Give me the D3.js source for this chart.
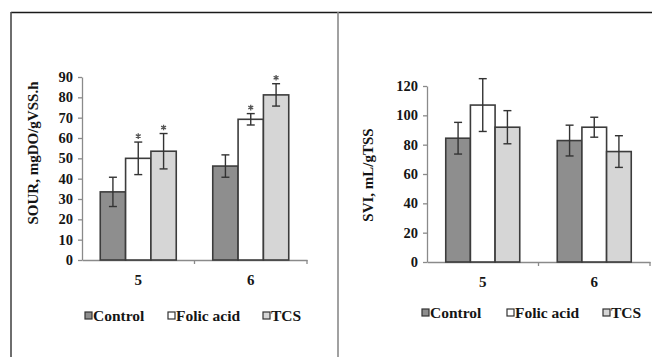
<!DOCTYPE html>
<html><head><meta charset="utf-8">
<script src="https://cdn.jsdelivr.net/npm/d3@7"></script>
<style>
html,body{margin:0;padding:0;background:#fff;}
svg{display:block;}
text{font-family:"Liberation Serif","Times New Roman",serif;font-weight:bold;}
</style></head>
<body><svg id="c" width="652" height="357"></svg>
<script>
// ---- data ----
const categories = ["5", "6"];
const seriesNames = ["Control", "Folic acid", "TCS"];
const seriesColors = ["#8e8e8e", "#ffffff", "#d6d6d6"];

const sourControl = [33.5, 46.2];
const sourFolic   = [50.0, 69.2];
const sourTCS     = [53.5, 81.2];
const sourErrControl = [7.2, 5.5];
const sourErrFolic   = [8.0, 2.8];
const sourErrTCS     = [8.7, 5.5];
const sourSigControl = [false, false];
const sourSigFolic   = [true, true];
const sourSigTCS     = [true, true];
const sourTicks = [0,10,20,30,40,50,60,70,80,90];

const sviControl = [84.4, 82.8];
const sviFolic   = [107.0, 91.9];
const sviTCS     = [91.9, 75.3];
const sviErrControl = [10.8, 10.5];
const sviErrFolic   = [18.0, 6.8];
const sviErrTCS     = [11.3, 10.8];
const sviTicks = [0,20,40,60,80,100,120];

const svg = d3.select("#c");

// frame
svg.append("line").attr("x1",11).attr("x2",652).attr("y1",12.5).attr("y2",12.5).attr("stroke","#1a1a1a").attr("stroke-width",1.6);
svg.append("line").attr("x1",11).attr("x2",11).attr("y1",12).attr("y2",357).attr("stroke","#4a4a4a").attr("stroke-width",1.6);
svg.append("line").attr("x1",338).attr("x2",338).attr("y1",12).attr("y2",357).attr("stroke","#8a8a8a").attr("stroke-width",1.6);

const star = d3.symbol().type(d3.symbolAsterisk).size(22);

function drawChart(cfg){
  const g = svg.append("g");
  const y = d3.scaleLinear().domain([0, cfg.ymax]).range([cfg.y0, cfg.yTop]);
  const x = d3.scaleBand().domain(categories).range([cfg.x0, cfg.x1]).paddingInner(0).paddingOuter(0);
  const xs = d3.scaleBand().domain(seriesNames).range([(x.bandwidth()-cfg.groupW)/2, (x.bandwidth()+cfg.groupW)/2]).padding(0);

  // y axis
  const ya = g.append("g").attr("transform",`translate(${cfg.x0},0)`)
    .call(d3.axisLeft(y).tickValues(cfg.ticks).tickSize(4).tickPadding(5).tickSizeOuter(0));
  ya.attr("font-family",null).attr("font-size",null);
  ya.selectAll("path,line").attr("stroke","#8a8a8a").attr("stroke-width",1.3);
  ya.selectAll("text").style("font-size","14.5px").style("fill","#151515");

  // x axis
  const xa = g.append("g").attr("transform",`translate(0,${cfg.y0})`)
    .call(d3.axisBottom(x).tickSize(0).tickPadding(14).tickSizeOuter(0));
  xa.attr("font-family",null).attr("font-size",null);
  xa.selectAll("path").attr("stroke","#8a8a8a").attr("stroke-width",1.3);
  xa.selectAll("text").style("font-size","15px").style("fill","#151515");
  // boundary ticks
  const bounds = categories.map(c => x(c)).concat([x(categories[categories.length-1]) + x.bandwidth()]);
  g.selectAll(".bt").data(bounds.slice(1)).join("line")
    .attr("x1",d=>d).attr("x2",d=>d).attr("y1",cfg.y0).attr("y2",cfg.y0+4)
    .attr("stroke","#8a8a8a").attr("stroke-width",1.3);

  // bars
  seriesNames.forEach((s,si)=>{
    const vals = cfg.values[si], errs = cfg.errs[si], sig = cfg.sig ? cfg.sig[si] : null;
    categories.forEach((c,ci)=>{
      const bx = x(c) + xs(s), bw = xs.bandwidth();
      g.append("rect").attr("x",bx).attr("y",y(vals[ci])).attr("width",bw).attr("height",cfg.y0 - y(vals[ci]))
        .attr("fill",seriesColors[si]).attr("stroke","#3c3c3c").attr("stroke-width",1.6);
      const cx = bx + bw/2, hi = y(vals[ci]+errs[ci]), lo = y(vals[ci]-errs[ci]);
      g.append("line").attr("x1",cx).attr("x2",cx).attr("y1",hi).attr("y2",lo).attr("stroke","#333").attr("stroke-width",1.4);
      [hi,lo].forEach(yy=>g.append("line").attr("x1",cx-4).attr("x2",cx+4).attr("y1",yy).attr("y2",yy).attr("stroke","#333").attr("stroke-width",1.4));
      if(sig && sig[ci]){
        g.append("path").attr("d",star).attr("transform",`translate(${cx},${hi-6})`)
          .attr("fill","none").attr("stroke","#555").attr("stroke-width",1.3);
      }
    });
  });

  // y title
  g.append("text").attr("transform",`translate(${cfg.titleX},${cfg.titleY}) rotate(-90)`)
    .attr("text-anchor","middle").style("font-size","15px").style("fill","#151515").text(cfg.title);

  // legend
  cfg.legend.forEach((p,i)=>{
    g.append("rect").attr("x",p).attr("y",cfg.legY-4).attr("width",7).attr("height",7)
      .attr("fill",seriesColors[i]).attr("stroke","#333").attr("stroke-width",1.2);
    g.append("text").attr("x",p+8).attr("y",cfg.legY+5).style("font-size","15.5px").style("fill","#151515").text(seriesNames[i]);
  });
}

drawChart({
  x0:82, x1:307, y0:260, yTop:77, ymax:90, groupW:76, ticks:sourTicks,
  values:[sourControl, sourFolic, sourTCS], errs:[sourErrControl, sourErrFolic, sourErrTCS],
  sig:[sourSigControl, sourSigFolic, sourSigTCS],
  title:"SOUR, mgDO/gVSS.h", titleX:38, titleY:153,
  legend:[85,168,263], legY:316
});
drawChart({
  x0:427, x1:650, y0:262, yTop:86, ymax:120, groupW:74, ticks:sviTicks,
  values:[sviControl, sviFolic, sviTCS], errs:[sviErrControl, sviErrFolic, sviErrTCS],
  sig:null,
  title:"SVI, mL/gTSS", titleX:373, titleY:175,
  legend:[422,507,603], legY:313
});
</script></body></html>
